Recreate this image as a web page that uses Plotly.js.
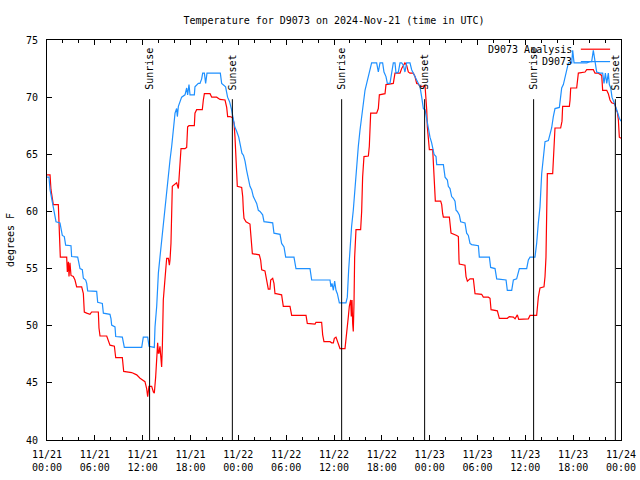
<!DOCTYPE html>
<html>
<head>
<meta charset="utf-8">
<script src="https://cdn.plot.ly/plotly-3.0.1.min.js"></script>
<style>html,body{margin:0;padding:0;background:#fff}#chart{width:640px;height:480px}</style>
</head>
<body>
<div id="chart"></div>
<script>
// Hours since 2024-11-21 00:00 UTC
var obsHours = [0.0,0.25,0.38,0.59,0.79,1.0,1.13,1.63,1.76,1.92,2.17,2.34,3.01,3.09,3.85,4.01,4.14,4.43,4.56,4.85,4.98,5.10,6.23,6.36,6.94,7.07,7.90,8.03,8.11,8.53,8.62,9.45,9.70,11.88,12.08,12.63,12.80,13.46,13.55,13.76,13.97,14.17,14.38,14.59,14.80,15.01,15.22,15.43,15.64,15.85,16.06,16.26,16.35,16.48,16.68,16.89,17.31,17.52,17.64,17.81,17.94,18.48,18.56,18.98,19.19,19.40,19.53,19.74,19.90,20.07,21.49,21.74,21.91,22.1,22.4,22.65,22.9,23.15,23.35,23.55,23.8,24.05,24.25,24.45,24.65,24.84,25.04,25.25,25.46,25.67,25.88,26.09,26.30,26.51,26.72,27.05,27.22,28.31,28.47,29.23,29.43,29.73,29.94,30.98,31.23,32.99,33.20,35.50,35.62,35.75,35.92,36.08,36.25,36.42,36.54,36.67,37.50,37.67,37.84,38.01,38.21,38.42,38.63,38.84,39.05,39.26,39.47,39.68,39.89,40.10,40.31,40.51,40.72,41.35,41.56,41.77,42.10,42.27,42.52,42.69,43.02,43.23,43.44,43.65,43.78,44.07,44.28,44.49,44.70,44.90,45.11,45.32,45.53,45.74,45.95,46.37,46.79,47.00,47.21,47.42,47.63,47.84,48.04,48.25,48.46,48.55,48.80,48.88,49.72,49.93,50.22,50.34,50.55,50.76,50.97,51.18,51.31,51.47,51.72,51.89,52.43,52.64,52.85,53.06,53.27,54.11,54.23,55.49,55.65,56.20,56.41,57.58,57.74,58.29,58.50,58.91,59.25,60.17,60.38,60.59,61.21,61.42,61.63,61.84,62.05,62.26,62.47,62.89,63.10,63.30,63.51,63.72,64.27,64.35,64.56,64.77,64.98,65.19,65.40,65.61,65.82,65.94,66.11,66.44,67.70,68.11,68.32,68.53,68.74,68.95,69.37,69.70,69.87,70.04,70.21,70.41,70.54,70.71,70.87,71.04,71.25,71.46,71.67,71.79,72.0];
var obsTemp = [63.0,63.0,61.9,61.15,60.3,59.8,59.1,59.0,58.4,57.9,57.8,57.05,57.0,56.05,56.0,55.5,55.0,54.9,54.15,54.0,53.7,53.05,53.0,52.05,51.95,51.1,51.0,50.6,50.05,49.9,49.05,49.0,48.1,48.1,49.0,49.0,48.2,48.1,49.9,51.7,54.6,56.0,57.5,59.0,60.4,61.6,63.0,64.5,65.7,67.1,68.6,69.0,68.3,69.2,69.6,70.0,70.2,70.8,70.2,71.1,70.2,70.2,70.9,71.2,71.2,71.6,72.1,72.1,71.2,72.1,72.1,72.1,71.2,71.1,70.9,70.0,69.6,68.9,68.2,67.4,67.0,66.5,65.8,65.1,64.9,64.4,63.6,62.9,62.2,61.9,61.3,61.0,60.7,60.1,60.0,59.7,59.1,59.0,58.1,58.0,57.2,56.9,56.0,56.0,55.0,55.0,54.0,54.0,53.4,53.7,53.1,53.9,53.1,52.8,52.5,52.0,52.0,52.5,54.9,57.2,58.7,60.1,62.2,64.2,65.7,67.1,68.3,69.5,70.6,71.2,71.9,72.4,73.0,73.0,72.2,73.0,73.0,72.2,71.8,71.2,71.2,72.1,73.0,73.0,72.1,72.2,73.0,73.0,72.8,72.2,73.0,73.0,73.0,72.4,72.1,71.6,70.9,70.0,69.0,68.9,68.0,67.1,66.5,66.0,65.4,65.0,64.8,64.1,64.1,63.0,62.75,62.2,62.0,61.3,61.15,60.9,60.1,60.0,59.7,59.1,59.0,58.1,57.9,57.2,57.1,57.0,56.0,56.0,55.1,55.0,54.1,54.0,53.1,53.1,54.0,54.1,55.0,55.0,55.75,56.0,56.0,57.2,59.0,60.4,63.3,65.1,66.1,66.2,66.8,67.3,68.3,69.0,69.1,69.75,70.8,71.1,71.8,72.4,73.0,73.05,73.0,74.1,73.0,73.0,73.0,73.1,73.1,74.1,73.1,72.2,72.1,72.1,71.2,72.1,71.2,72.1,71.1,70.8,70.0,69.75,69.3,68.9,68.4,68.15,67.9];

var anaHours = [0.0,0.38,0.50,0.67,0.79,1.42,1.55,1.67,2.47,2.55,2.68,2.76,2.88,3.01,3.30,3.51,3.72,4.35,4.56,4.68,4.98,5.39,5.60,6.44,6.52,6.65,7.49,7.90,8.45,8.62,9.45,9.62,10.62,11.25,11.67,12.29,12.50,12.63,12.79,13.13,13.34,13.46,13.63,13.76,13.88,13.97,14.05,14.17,14.30,14.38,14.47,14.59,14.72,14.89,15.01,15.22,15.35,15.43,15.55,15.72,16.06,16.26,16.48,16.56,16.68,16.81,17.31,17.52,17.64,17.81,18.48,18.56,18.77,19.48,19.61,19.74,20.45,20.66,21.28,21.70,22.33,22.54,22.66,22.95,23.29,23.46,23.58,23.71,23.79,23.87,24.42,24.55,24.63,24.71,24.96,25.25,25.46,25.55,25.67,25.76,26.63,26.80,26.93,27.34,27.47,27.64,27.76,27.97,28.06,28.31,28.47,28.60,28.72,29.43,29.64,30.48,30.69,31.40,32.49,32.65,33.62,33.74,34.45,34.58,34.74,35.50,35.71,35.92,36.04,36.25,36.42,36.54,36.75,37.38,37.50,37.67,37.80,37.92,38.09,38.17,38.26,38.34,38.42,38.51,38.59,38.76,39.05,39.34,39.47,39.59,39.76,40.31,40.43,40.60,41.35,41.56,41.69,42.40,42.52,43.44,43.65,44.28,44.49,44.70,44.90,45.11,45.32,45.53,45.95,46.16,46.37,46.58,46.79,47.42,47.54,47.63,47.71,47.84,47.96,48.38,48.46,48.55,48.63,48.71,49.38,49.51,49.63,49.72,50.47,50.55,50.68,51.39,51.60,51.68,51.72,52.43,52.56,52.73,53.06,53.48,53.69,54.52,54.73,55.36,55.57,55.70,56.49,56.74,57.58,57.74,57.99,58.50,58.71,59.00,59.17,59.54,59.75,60.38,60.59,61.42,61.63,61.84,62.34,62.47,62.59,62.68,62.76,63.43,63.51,63.60,63.72,64.43,64.60,64.68,65.52,65.61,65.69,66.44,66.65,67.49,67.70,68.11,68.53,68.74,69.16,69.58,69.70,70.21,70.41,70.62,70.83,71.25,71.38,71.54,71.67,71.79,72.0];
var anaTemp = [63.2,63.2,61.9,61.0,60.6,60.6,57.2,56.0,56.0,54.7,55.6,54.3,55.5,54.4,54.3,54.0,53.4,53.4,52.8,51.2,51.1,51.0,51.2,51.2,49.8,49.1,49.1,48.3,48.2,47.2,47.2,46.0,45.9,45.7,45.4,45.1,44.5,43.8,44.7,44.7,44.2,44.1,45.5,47.0,48.5,47.6,47.6,48.2,47.0,46.4,48.2,52.25,53.4,55.5,55.9,55.9,55.3,55.75,57.2,62.2,62.35,62.5,62.0,62.9,64.5,65.5,65.5,65.6,67.4,67.5,67.5,68.6,68.9,68.9,69.75,70.3,70.3,70.0,70.0,69.8,69.75,69.1,68.3,68.3,68.2,67.7,66.5,64.8,63.0,62.2,62.1,61.3,60.1,59.4,59.1,59.0,58.9,58.1,57.2,56.3,56.2,55.75,54.9,54.8,54.3,53.7,53.2,53.2,54.0,54.15,53.7,52.8,52.8,52.7,51.7,51.7,50.9,50.9,50.9,50.2,50.15,50.3,50.3,49.2,48.6,48.6,48.5,48.5,48.9,49.0,48.6,48.5,48.0,48.0,49.0,50.2,50.8,51.7,52.25,50.8,52.25,50.2,49.5,52.0,56.0,58.4,58.4,58.4,60.0,63.0,64.8,64.85,65.7,68.6,68.6,69.0,70.2,70.3,71.1,71.2,72.1,72.1,72.5,72.8,73.0,72.8,72.2,72.1,72.1,71.8,71.2,71.15,70.9,71.0,70.0,68.9,67.4,66.1,65.4,65.4,64.2,63.3,61.9,60.9,60.9,60.6,59.8,59.5,59.5,59.0,58.1,57.9,57.8,55.75,55.4,55.3,54.3,53.9,54.1,54.1,52.8,52.75,52.5,52.5,52.4,51.4,51.3,50.65,50.6,50.65,50.8,50.75,50.6,50.95,50.56,50.56,50.6,50.6,50.9,50.9,52.5,53.3,53.4,54.3,56.0,60.7,63.3,63.3,64.4,66.25,67.3,67.3,67.9,69.2,69.2,69.75,70.8,70.8,72.1,72.2,72.4,72.4,72.4,72.1,72.1,71.9,70.6,70.6,70.3,69.75,69.5,69.4,68.9,68.7,68.0,66.5,66.4];

var sunTimes = [12.87, 23.25, 36.96, 47.37, 61.04, 71.29];
var sunLabels = ["Sunrise", "Sunset", "Sunrise", "Sunset", "Sunrise", "Sunset"];

var xTickVals = [0, 6, 12, 18, 24, 30, 36, 42, 48, 54, 60, 66, 72];
var xTickText = ["11/21<br>00:00","11/21<br>06:00","11/21<br>12:00","11/21<br>18:00",
                 "11/22<br>00:00","11/22<br>06:00","11/22<br>12:00","11/22<br>18:00",
                 "11/23<br>00:00","11/23<br>06:00","11/23<br>12:00","11/23<br>18:00",
                 "11/24<br>00:00"];
var seriesNames = ["D9073 Analysis", "D9073"];
var seriesColors = ["#ff0000", "#1e90ff"];

var FONT = "DejaVu Sans Mono, Liberation Mono, monospace";

var traces = [
  {x: anaHours, y: anaTemp, type: "scatter", mode: "lines", name: seriesNames[0],
   line: {color: seriesColors[0], width: 1.2}, showlegend: false},
  {x: obsHours, y: obsTemp, type: "scatter", mode: "lines", name: seriesNames[1],
   line: {color: seriesColors[1], width: 1.2}, showlegend: false}
];

var shapes = [];
var annotations = [];
sunTimes.forEach(function (t, i) {
  shapes.push({type: "line", xref: "x", yref: "paper", x0: t, x1: t, y0: 0, y1: 0.852,
               line: {color: "#000", width: 1}});
  annotations.push({x: t, xref: "x", y: 0.872, yref: "paper", text: sunLabels[i],
                    textangle: -90, showarrow: false, xanchor: "center", yanchor: "bottom",
                    borderpad: 0, font: {family: FONT, size: 10, color: "#000"}});
});
// manual gnuplot-style key: text then sample line
var keyY = [0.977, 0.946];
seriesNames.forEach(function (n, i) {
  annotations.push({x: 0.917, xref: "paper", y: keyY[i], yref: "paper", text: n,
                    showarrow: false, xanchor: "right", yanchor: "middle", borderpad: 0,
                    font: {family: FONT, size: 10, color: "#000"}});
  shapes.push({type: "line", xref: "paper", yref: "paper", x0: 0.930, x1: 0.981,
               y0: keyY[i], y1: keyY[i], line: {color: seriesColors[i], width: 1.2}});
});

var layout = {
  width: 640, height: 480,
  margin: {l: 47, r: 19, t: 40, b: 40},
  paper_bgcolor: "#fff", plot_bgcolor: "#fff",
  font: {family: FONT, size: 10, color: "#000"},
  title: {text: "Temperature for D9073 on 2024-Nov-21 (time in UTC)",
          x: 0.5, xref: "paper", y: 1 - 20 / 480, yref: "container", yanchor: "middle",
          font: {family: FONT, size: 10, color: "#000"}},
  xaxis: {range: [0, 72], tickmode: "array", tickvals: xTickVals, ticktext: xTickText,
          ticks: "inside", ticklen: 5, tickcolor: "#000", tickwidth: 1,
          showline: true, linecolor: "#000", linewidth: 1, mirror: "allticks",
          showgrid: false, zeroline: false, ticklabelstandoff: 5,
          minor: {tickmode: "linear", tick0: 0, dtick: 2, ticks: "inside", ticklen: 3,
                  tickcolor: "#000", tickwidth: 1, showgrid: false},
          tickfont: {family: FONT, size: 10, color: "#000"}},
  yaxis: {range: [40, 75], tick0: 40, dtick: 5, ticks: "inside", ticklen: 5,
          tickcolor: "#000", tickwidth: 1,
          showline: true, linecolor: "#000", linewidth: 1, mirror: "allticks",
          showgrid: false, zeroline: false, ticklabelstandoff: 6,
          title: {text: "degrees F", standoff: 9, font: {family: FONT, size: 10, color: "#000"}},
          tickfont: {family: FONT, size: 10, color: "#000"}},
  shapes: shapes,
  annotations: annotations,
  showlegend: false
};

Plotly.newPlot("chart", traces, layout, {staticPlot: true, displayModeBar: false});
</script>
</body>
</html>
